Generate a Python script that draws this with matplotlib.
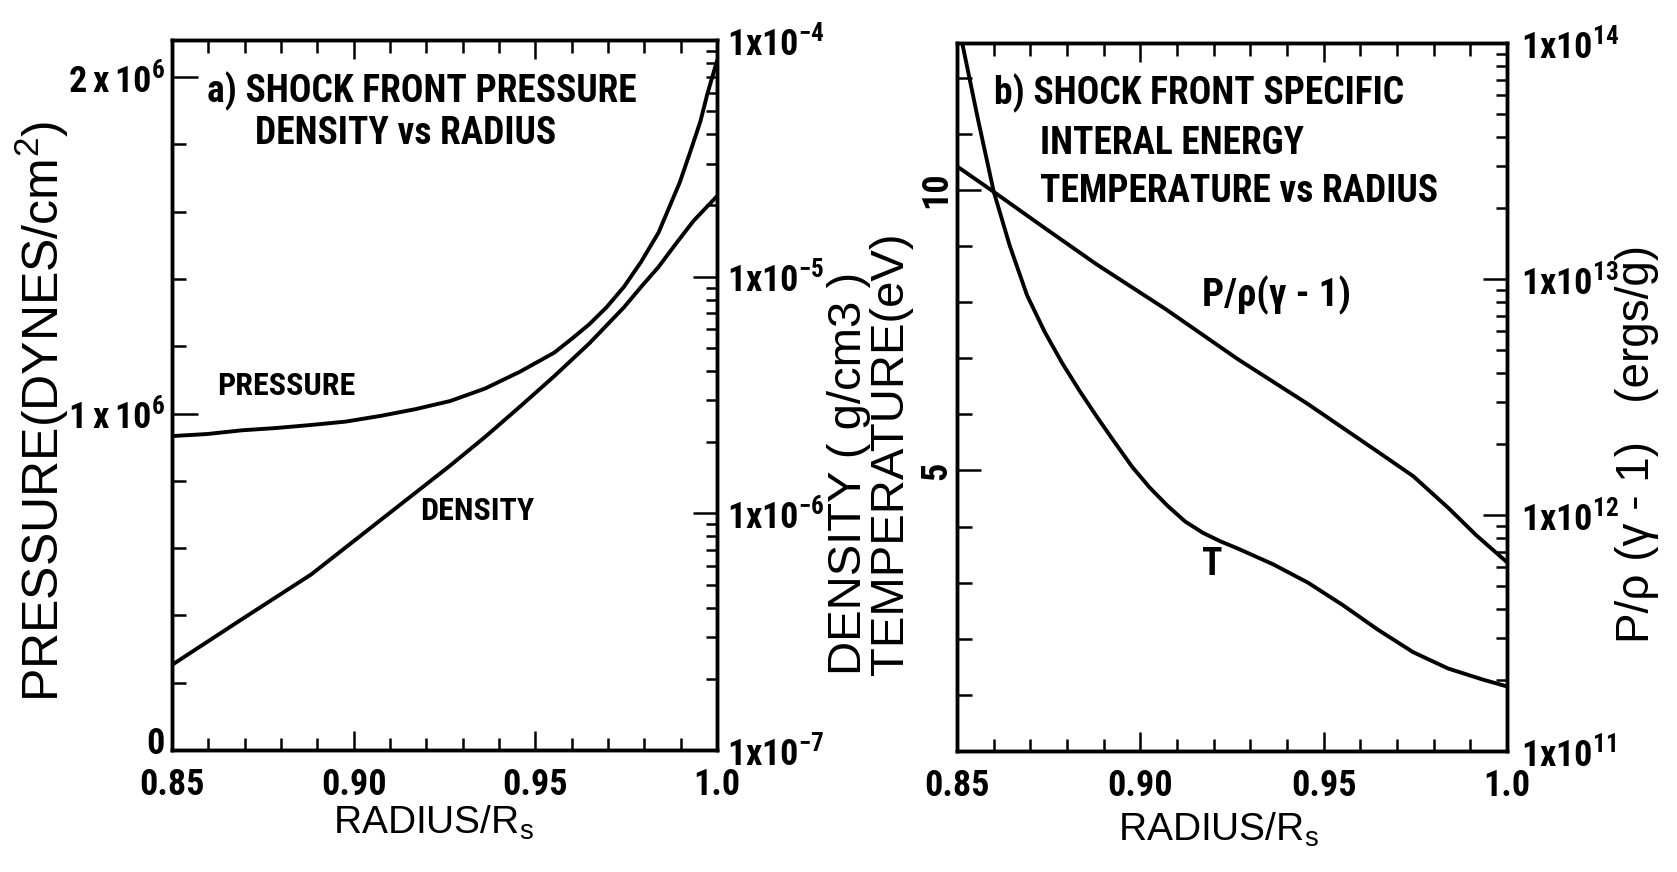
import numpy as np
import matplotlib
matplotlib.use("Agg")
import matplotlib.pyplot as plt
from matplotlib.transforms import ScaledTranslation
from matplotlib.ticker import FixedLocator, MultipleLocator, LogLocator, NullFormatter

# ---- panel a) shock front pressure / density vs radius
radius_p = [0.85, 0.8596, 0.8691, 0.8787, 0.8883, 0.8978, 0.9074, 0.917, 0.9265, 0.9361,
            0.9457, 0.9552, 0.96, 0.9648, 0.9696, 0.9744, 0.9791, 0.9839, 0.9868, 0.9897,
            0.9925, 0.9954, 0.9973, 1.0]
pressure = [0.933e6, 0.939e6, 0.950e6, 0.957e6, 0.966e6, 0.976e6, 0.993e6, 1.013e6, 1.037e6,
            1.074e6, 1.124e6, 1.181e6, 1.222e6, 1.265e6, 1.316e6, 1.377e6, 1.451e6, 1.538e6,
            1.612e6, 1.686e6, 1.774e6, 1.868e6, 1.949e6, 2.049e6]

radius_d = [0.85, 0.8691, 0.8883, 0.9074, 0.9265, 0.9361, 0.9457, 0.9552, 0.9648, 0.9744,
            0.9791, 0.9839, 0.9887, 0.9935, 1.0]
density = [2.29e-7, 3.56e-7, 5.52e-7, 9.37e-7, 1.59e-6, 2.10e-6, 2.82e-6, 3.80e-6, 5.22e-6,
           7.43e-6, 9.06e-6, 1.10e-5, 1.38e-5, 1.72e-5, 2.19e-5]

# ---- panel b) specific internal energy / temperature vs radius
radius_t = [0.8514, 0.8557, 0.86, 0.8644, 0.8691, 0.8739, 0.8787, 0.8835, 0.8883, 0.893,
            0.8978, 0.9026, 0.9074, 0.9122, 0.917, 0.9217, 0.9265, 0.9361, 0.9457, 0.9552,
            0.9648, 0.9744, 0.9839, 0.9935, 1.0]
temperature = [12.62, 11.26, 9.97, 9.00, 8.12, 7.47, 6.91, 6.41, 5.94, 5.50,
               5.06, 4.69, 4.37, 4.09, 3.89, 3.74, 3.61, 3.33, 3.00, 2.60,
               2.16, 1.76, 1.47, 1.27, 1.15]

radius_e = [0.85, 0.86, 0.874, 0.888, 0.907, 0.9265, 0.9457, 0.9648, 0.9744, 0.984, 0.9916, 1.0]
energy = [3.0e13, 2.34e13, 1.64e13, 1.155e13, 7.43e12, 4.58e12, 2.95e12, 1.85e12,
          1.46e12, 1.07e12, 8.2e11, 6.3e11]

# ticks
x_ticks = [0.85, 0.90, 0.95, 1.0]
x_labels = ["0.85", "0.90", "0.95", "1.0"]
p_ticks = [0, 1e6, 2e6]
p_labels = ["0", r"$\mathregular{1\,x\,10^{6}}$", r"$\mathregular{2\,x\,10^{6}}$"]
rho_ticks = [1e-7, 1e-6, 1e-5, 1e-4]
rho_labels = [r"$\mathregular{1x10^{-7}}$", r"$\mathregular{1x10^{-6}}$",
              r"$\mathregular{1x10^{-5}}$", r"$\mathregular{1x10^{-4}}$"]
t_ticks = [5, 10]
t_labels = ["5", "10"]
e_ticks = [1e11, 1e12, 1e13, 1e14]
e_labels = [r"$\mathregular{1x10^{11}}$", r"$\mathregular{1x10^{12}}$",
            r"$\mathregular{1x10^{13}}$", r"$\mathregular{1x10^{14}}$"]

NARROW = ["Roboto Condensed", "DejaVu Sans"]
SANS = ["Liberation Sans", "DejaVu Sans"]
plt.rcParams["font.family"] = SANS


def nfont(size):
    return dict(family=NARROW, weight="bold", size=size)


LW = 2.8
tick_font = nfont(26)
note_font = nfont(27)

fig = plt.figure(figsize=(16.77, 8.72), dpi=100)
axa = fig.add_axes([0.1026, 0.1399, 0.325, 0.8142])
axa2 = axa.twinx()
axb = fig.add_axes([0.5707, 0.1388, 0.328, 0.8119])
axb2 = axb.twinx()


def style_x(ax):
    ax.set_xlim(0.85, 1.0)
    ax.xaxis.set_major_locator(FixedLocator(x_ticks))
    ax.set_xticklabels(x_labels, **tick_font)
    ax.xaxis.set_minor_locator(MultipleLocator(0.01))
    ax.tick_params(axis="x", which="both", direction="in", top=True, width=1.8, pad=12)
    ax.tick_params(axis="x", which="major", length=14)
    ax.tick_params(axis="x", which="minor", length=9)


for a in (axa, axa2, axb, axb2):
    for s in a.spines.values():
        s.set_linewidth(2.5)

# panel a
style_x(axa)
axa.plot(radius_p, pressure, color="black", lw=LW, solid_capstyle="round", solid_joinstyle="round")
axa.set_ylim(0, 2.11e6)
axa.yaxis.set_major_locator(FixedLocator(p_ticks))
axa.set_yticklabels(p_labels, **tick_font)
axa.yaxis.set_minor_locator(MultipleLocator(0.2e6))
axa.tick_params(axis="y", which="both", direction="in", right=False, width=1.8, pad=5)
axa.tick_params(axis="y", which="major", length=19)
axa.tick_params(axis="y", which="minor", length=10)

axa2.plot(radius_d, density, color="black", lw=LW, solid_capstyle="round", solid_joinstyle="round")
axa2.set_yscale("log")
axa2.set_ylim(1e-7, 1e-4)
axa2.yaxis.set_major_locator(FixedLocator(rho_ticks))
axa2.set_yticklabels(rho_labels, **tick_font)
axa2.yaxis.set_minor_locator(LogLocator(base=10, subs=np.arange(2, 10)))
axa2.yaxis.set_minor_formatter(NullFormatter())
axa2.tick_params(axis="y", which="both", direction="in", width=1.8, pad=7)
axa2.tick_params(axis="y", which="major", length=17)
axa2.tick_params(axis="y", which="minor", length=8)

axa.set_ylabel(r"$\mathregular{PRESSURE(DYNES/cm^2)}$", fontsize=36, va="center")
axa.yaxis.set_label_coords(-0.2385, 0.477)
axa.set_xlabel(r"$\mathregular{RADIUS/R_s}$", fontsize=28, va="center")
axa.xaxis.set_label_coords(0.48, -0.103)

axa.text(0.064, 0.9285, "a) SHOCK FRONT PRESSURE", transform=axa.transAxes,
         ha="left", va="center", **note_font)
axa.text(0.153, 0.869, "DENSITY vs RADIUS", transform=axa.transAxes,
         ha="left", va="center", **note_font)
axa.text(0.083, 0.512, "PRESSURE", transform=axa.transAxes,
         ha="left", va="center", **nfont(23))
axa.text(0.456, 0.337, "DENSITY", transform=axa.transAxes,
         ha="left", va="center", **nfont(23))

# panel b
style_x(axb)
axb.plot(radius_t, temperature, color="black", lw=LW, solid_capstyle="round", solid_joinstyle="round")
axb.set_ylim(0, 12.62)
axb.yaxis.set_major_locator(FixedLocator(t_ticks))
axb.set_yticklabels(t_labels, rotation=90, va="center", **tick_font)
axb.yaxis.set_minor_locator(MultipleLocator(1))
axb.tick_params(axis="y", which="both", direction="in", right=False, width=1.8, pad=2)
axb.tick_params(axis="y", which="major", length=17)
axb.tick_params(axis="y", which="minor", length=11)

axb2.plot(radius_e, energy, color="black", lw=LW, solid_capstyle="round", solid_joinstyle="round")
axb2.set_yscale("log")
axb2.set_ylim(1e11, 1e14)
axb2.yaxis.set_major_locator(FixedLocator(e_ticks))
axb2.set_yticklabels(e_labels, **tick_font)
axb2.yaxis.set_minor_locator(LogLocator(base=10, subs=np.arange(2, 10)))
axb2.yaxis.set_minor_formatter(NullFormatter())
axb2.tick_params(axis="y", which="both", direction="in", width=1.8, pad=10)
axb2.tick_params(axis="y", which="major", length=17)
axb2.tick_params(axis="y", which="minor", length=8)

axb.set_ylabel("DENSITY ( g/cm3 )\nTEMPERATURE(eV)", fontsize=34, va="center",
               linespacing=0.95, multialignment="left")
axb.yaxis.set_label_coords(-0.158, 0.42)
axb2.set_ylabel("P/\u03c1 (\u03b3 - 1)   (ergs/g)", fontsize=33,
                va="center", rotation=90)
axb2.yaxis.set_label_coords(1.236, 0.434)
axb.set_xlabel(r"$\mathregular{RADIUS/R_s}$", fontsize=28, va="center")
axb.xaxis.set_label_coords(0.475, -0.112)

axb.text(0.067, 0.9285, "b) SHOCK FRONT SPECIFIC", transform=axb.transAxes,
         ha="left", va="center", **note_font)
axb.text(0.15, 0.858, "INTERAL ENERGY", transform=axb.transAxes,
         ha="left", va="center", **note_font)
axb.text(0.15, 0.79, "TEMPERATURE vs RADIUS", transform=axb.transAxes,
         ha="left", va="center", **note_font)
axb.text(0.446, 0.643, "P/\u03c1(\u03b3 - 1)", transform=axb.transAxes,
         ha="left", va="center", **nfont(28))
axb.text(0.446, 0.263, "T", transform=axb.transAxes,
         ha="left", va="center", **note_font)

# the "0" sits a little above its tick in the original (after tick_params, which resets transforms)
zero = axa.yaxis.get_major_ticks()[0].label1
zero.set_transform(zero.get_transform() + ScaledTranslation(0, 7 / 72, fig.dpi_scale_trans))

fig.savefig("out.png", dpi=100)
